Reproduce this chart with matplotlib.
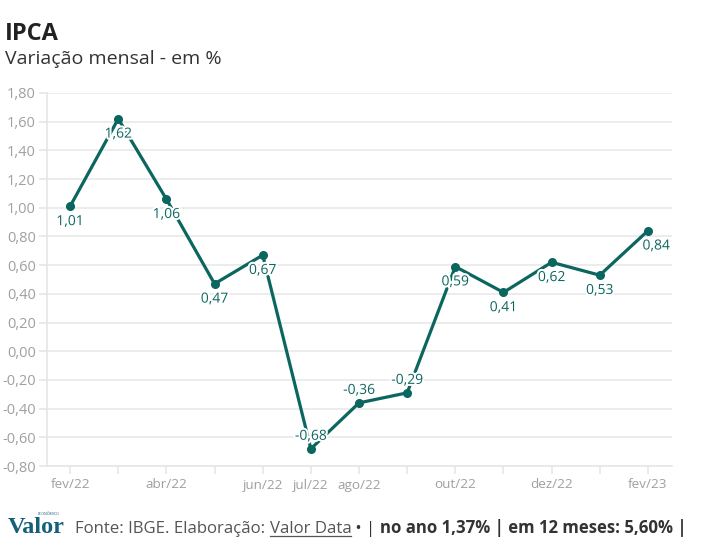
import matplotlib
matplotlib.use("Agg")
import matplotlib.pyplot as plt
import matplotlib.patheffects as pe

plt.rcParams['font.family'] = ['Open Sans', 'DejaVu Sans']

# Dados
meses = ["fev/22", "mar/22", "abr/22", "mai/22", "jun/22", "jul/22", "ago/22",
         "set/22", "out/22", "nov/22", "dez/22", "jan/23", "fev/23"]
valores = [1.01, 1.62, 1.06, 0.47, 0.67, -0.68, -0.36, -0.29, 0.59, 0.41, 0.62, 0.53, 0.84]
rotulos_x = ["fev/22", "", "abr/22", "", "jun/22", "jul/22", "ago/22",
             "", "out/22", "", "dez/22", "", "fev/23"]
acima = [False, False, False, False, False, True, True, True, False, False, False, False, False]
yticks = [-0.8, -0.6, -0.4, -0.2, 0.0, 0.2, 0.4, 0.6, 0.8, 1.0, 1.2, 1.4, 1.6, 1.8]

cor = "#0b6660"
cinza = "#a0a0a0"

fig = plt.figure(figsize=(7.18, 5.56), dpi=100)
ax = fig.add_axes([47 / 718, 1 - 466 / 556, (672 - 47) / 718, (466 - 93) / 556])

x = list(range(len(meses)))
ax.plot(x, valores, color=cor, lw=2.3, marker="o", ms=5.5, zorder=3)

for i, v in enumerate(valores):
    dy = 9 if acima[i] else -11
    dx = 6 if i == len(valores) - 1 else 0
    t = ax.annotate(f"{v:.2f}".replace(".", ","), (i, v), xytext=(dx, dy),
                    textcoords="offset points", ha="center", va="center",
                    fontsize=10, color=cor, zorder=4)
    t.set_path_effects([pe.withStroke(linewidth=3, foreground="white")])

ax.set_xlim(-0.48, 12.5)
ax.set_ylim(-0.8, 1.8)
ax.set_xticks(x)
ax.set_xticklabels(rotulos_x)
ax.set_yticks(yticks)
ax.set_yticklabels([f"{t:.2f}".replace(".", ",") for t in yticks])
ax.tick_params(axis="both", colors="#e6e6e6", labelcolor=cinza, width=1.2)
ax.tick_params(axis="x", length=6, pad=3, labelsize=9.7)
ax.tick_params(axis="y", length=6, pad=2, labelsize=10.5)
ax.grid(axis="y", color="#e9e9e9", lw=1.2)
ax.set_axisbelow(True)
for s in ["top", "right"]:
    ax.spines[s].set_visible(False)
for s in ["left", "bottom"]:
    ax.spines[s].set_color("#e6e6e6")
    ax.spines[s].set_linewidth(1.2)

fig.text(5 / 718, 1 - 40 / 556, "IPCA", fontsize=17, fontweight="bold", color="#222222")
fig.text(5 / 718, 1 - 64 / 556, "Variação mensal - em %", fontsize=14, color="#333333")

# rodapé
fig.text(8 / 718, 1 - 533 / 556, "Valor", fontsize=17.5, fontweight="bold",
         family="Liberation Serif", color="#14607a")
fig.text(38 / 718, 1 - 515 / 556, "ECONÔMICO", fontsize=2.5, color="#14607a")

fig.canvas.draw()
r = fig.canvas.get_renderer()
partes = [("Fonte: IBGE. Elaboração: ", "normal", "#555555", False),
          ("Valor Data", "normal", "#555555", True),
          (" • | ", "normal", "#333333", False),
          ("no ano 1,37% | em 12 meses: 5,60% |", "bold", "#333333", False)]
xp = 75
yb = 556 - 533
for txt, w, c, sub in partes:
    t = fig.text(xp / 718, yb / 556, txt, fontsize=12.1, fontweight=w, color=c)
    bb = t.get_window_extent(r)
    if sub:
        fig.add_artist(plt.Line2D([xp / 718, (xp + bb.width) / 718],
                                  [(yb - 3) / 556, (yb - 3) / 556], color=c, lw=0.9))
    xp += bb.width

fig.savefig("out.png", dpi=100)
